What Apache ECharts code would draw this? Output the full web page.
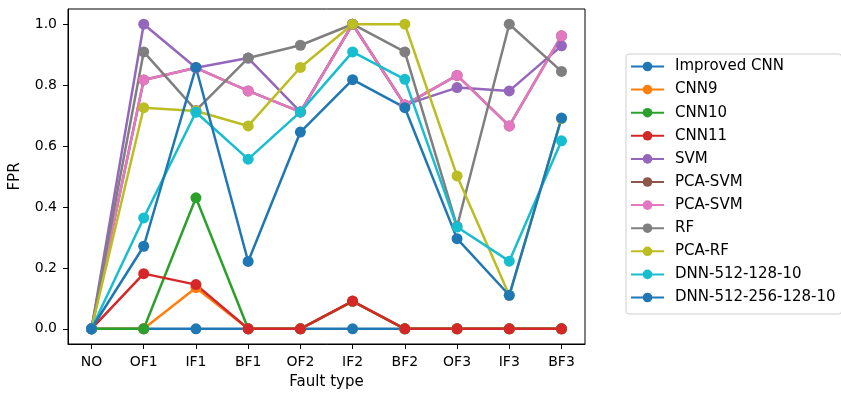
<!DOCTYPE html>
<html>
<head>
<meta charset="utf-8">
<title>FPR by fault type</title>
<script src="https://cdn.jsdelivr.net/npm/echarts@6/dist/echarts.min.js"></script>
<style>
  html, body { margin: 0; padding: 0; background: #fff; }
  #chart { width: 841px; height: 395px; }
</style>
</head>
<body>
<div id="chart"></div>
<script>
// fault types on the x axis
var categories = ['NO', 'OF1', 'IF1', 'BF1', 'OF2', 'IF2', 'BF2', 'OF3', 'IF3', 'BF3']
var yTicks = [0, 0.2, 0.4, 0.6, 0.8, 1.0]

// FPR values
var improvedCnn = [0, 0, 0, 0, 0, 0, 0, 0, 0, 0]
var cnn9 = [0, 0, 0.135, 0, 0, 0.09, 0, 0, 0, 0]
var cnn10 = [0, 0, 0.43, 0, 0, 0.09, 0, 0, 0, 0]
var cnn11 = [0, 0.181, 0.145, 0, 0, 0.091, 0, 0, 0, 0]
var svm = [0, 1.0, 0.857, 0.889, 0.712, 1.0, 0.735, 0.792, 0.781, 0.929]
var pcaSvmA = [0, 0.817, 0.857, 0.781, 0.712, 1.0, 0.735, 0.832, 0.666, 0.962]
var pcaSvmB = [0, 0.817, 0.857, 0.781, 0.712, 1.0, 0.735, 0.832, 0.666, 0.962]
var rf = [0, 0.909, 0.717, 0.889, 0.931, 1.0, 0.909, 0.336, 1.0, 0.845]
var pcaRf = [0, 0.726, 0.715, 0.666, 0.858, 1.0, 1.0, 0.502, 0.11, 0.69]
var dnn3 = [0, 0.364, 0.711, 0.557, 0.712, 0.909, 0.819, 0.334, 0.222, 0.617]
var dnn4 = [0, 0.271, 0.858, 0.221, 0.646, 0.818, 0.726, 0.296, 0.11, 0.692]

var seriesNames = ['Improved CNN', 'CNN9', 'CNN10', 'CNN11', 'SVM', 'PCA-SVM', 'PCA-SVM ', 'RF', 'PCA-RF', 'DNN-512-128-10', 'DNN-512-256-128-10']
var seriesValues = [improvedCnn, cnn9, cnn10, cnn11, svm, pcaSvmA, pcaSvmB, rf, pcaRf, dnn3, dnn4]

// matplotlib tab10 cycle, wraps around for the 11th line
var colors = ['#1f77b4', '#ff7f0e', '#2ca02c', '#d62728', '#9467bd', '#8c564b', '#e377c2', '#7f7f7f', '#bcbd22', '#17becf', '#1f77b4']

var font = 'DejaVu Sans'
var chart = echarts.init(document.getElementById('chart'))

var series = seriesNames.map(function (name, i) {
  return {
    name: name,
    type: 'line',
    symbol: 'circle',
    symbolSize: 11,
    color: colors[i],
    lineStyle: { width: 2.5 },
    emphasis: { disabled: true },
    data: seriesValues[i].map(function (v, k) { return [k, v] })
  }
})

chart.setOption({
  animation: false,
  backgroundColor: '#fff',
  grid: {
    left: 68,
    right: 256,
    top: 9,
    bottom: 51,
    show: true,
    borderColor: '#000',
    borderWidth: 1
  },
  legend: {
    orient: 'vertical',
    left: 626,
    top: 54,
    padding: [5, 6, 9, 4],
    itemWidth: 33,
    itemHeight: 12,
    itemGap: 8.1,
    borderColor: '#cfcfcf',
    borderWidth: 1,
    borderRadius: 3,
    data: seriesNames,
    textStyle: {
      fontFamily: font,
      fontSize: 15,
      color: '#000',
      lineHeight: 12,
      padding: [0, 0, 0, 6]
    }
  },
  xAxis: {
    type: 'value',
    min: -0.45,
    max: 9.45,
    name: 'Fault type',
    nameLocation: 'middle',
    nameGap: 31,
    nameTextStyle: { fontFamily: font, fontSize: 15, color: '#000' },
    axisLine: { show: true, onZero: false, lineStyle: { color: '#000' } },
    splitLine: { show: false },
    axisTick: {
      customValues: categories.map(function (c, i) { return i }),
      length: 5,
      lineStyle: { color: '#000' }
    },
    axisLabel: {
      customValues: categories.map(function (c, i) { return i }),
      margin: 11,
      fontFamily: font,
      fontSize: 14,
      color: '#000',
      formatter: function (v) { return categories[Math.round(v)] }
    }
  },
  yAxis: {
    type: 'value',
    min: -0.05,
    max: 1.05,
    name: 'FPR',
    nameLocation: 'middle',
    nameGap: 45,
    nameTextStyle: { fontFamily: font, fontSize: 15, color: '#000' },
    axisLine: { show: true, onZero: false, lineStyle: { color: '#000' } },
    splitLine: { show: false },
    axisTick: {
      show: true,
      customValues: yTicks,
      length: 5,
      lineStyle: { color: '#000' }
    },
    axisLabel: {
      customValues: yTicks,
      margin: 11,
      fontFamily: font,
      fontSize: 14,
      color: '#000',
      formatter: function (v) { return v.toFixed(1) }
    }
  },
  series: series
})
</script>
</body>
</html>
